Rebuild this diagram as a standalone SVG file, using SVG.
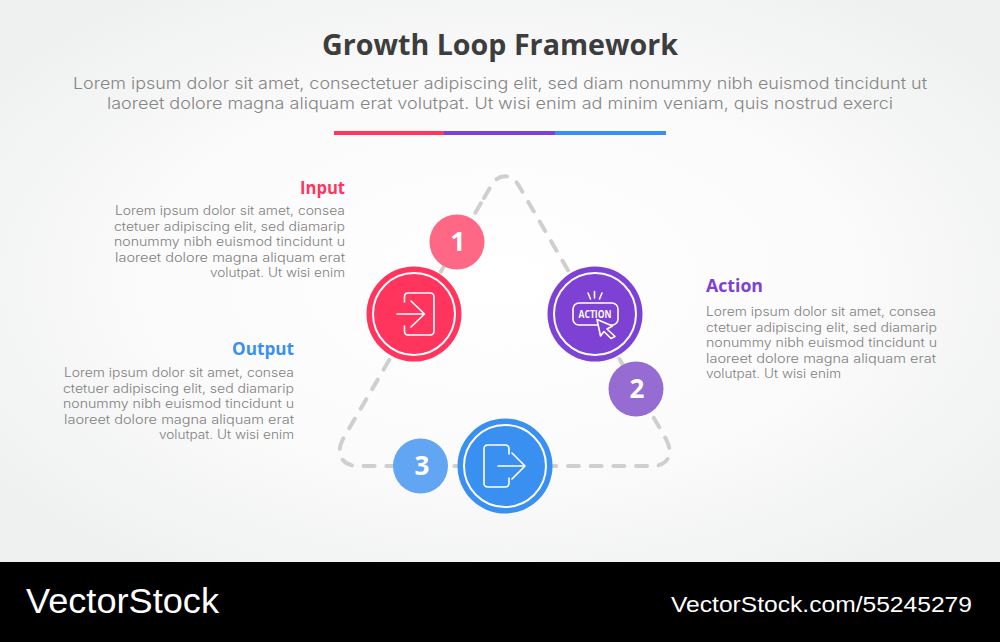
<svg xmlns="http://www.w3.org/2000/svg" width="1000" height="642" viewBox="0 0 1000 642">
<style>
.t{font-family:"Open Sans","Liberation Sans",sans-serif}
.l{font-family:Inter,"Open Sans",sans-serif}
.title{font-size:29px;font-weight:700;fill:#3d3d3d;text-anchor:middle}
.sub{font-size:16.5px;font-weight:300;fill:#858585;text-anchor:middle}
.h{font-size:18px;font-weight:700}
.b{font-size:12.500px;font-weight:300;fill:#808080}
.e{text-anchor:end}
.num{font-size:26px;font-weight:700;fill:#fff;text-anchor:middle}
.ic{fill:none;stroke:#fff;stroke-width:1.6;stroke-linejoin:round;stroke-linecap:round}
.ring{fill:none;stroke:#fff;stroke-width:2}
.wm{font-family:"Liberation Sans",Arial,sans-serif;fill:#fff}
</style>
<defs>
<radialGradient id="bg" cx="50%" cy="50%" r="62%">
<stop offset="0" stop-color="#ffffff"/><stop offset="0.55" stop-color="#fbfbfb"/><stop offset="1" stop-color="#eff0f0"/>
</radialGradient>
</defs>
<rect width="1000" height="562" fill="url(#bg)"/>
<rect y="562" width="1000" height="80" fill="#000"/>
<text class="t title" x="500" y="55" textLength="356" lengthAdjust="spacingAndGlyphs">Growth Loop Framework</text>
<text class="l sub" x="500" y="89" textLength="854" lengthAdjust="spacingAndGlyphs">Lorem ipsum dolor sit amet, consectetuer adipiscing elit, sed diam nonummy nibh euismod tincidunt ut</text>
<text class="l sub" x="500" y="109" textLength="786" lengthAdjust="spacingAndGlyphs">laoreet dolore magna aliquam erat volutpat. Ut wisi enim ad minim veniam, quis nostrud exerci</text>
<g id="title-rule">
<rect x="334" y="131" width="111" height="4" fill="#ff355e"/>
<rect x="444" y="131" width="111" height="4" fill="#7d41d3"/>
<rect x="555" y="131" width="111" height="4" fill="#3a90f0"/>
</g>
<g id="connectors">
<path d="M484 198L491 186C498 173 512 173 519 186L666 439C674 454 668 466 652 466H358C342 466 335 454 343 439Z" fill="none" stroke="#cfcfcf" stroke-width="4" stroke-dasharray="11 11.700" stroke-linecap="round"/>
</g>
<g id="node-input">
<circle cx="414" cy="314" r="47.500" fill="#ff355e"/>
<circle cx="414" cy="314" r="41" class="ring"/>
<path class="ic" d="M404.500 302V297Q404.500 293 408 293H430Q434 293 434 297V331Q434 335 430 335H408Q404.500 335 404.500 331V326"/>
<path class="ic" d="M397 314H424.500M411 301L424.500 314L411 327"/>
</g>
<g id="node-action">
<circle cx="595" cy="314" r="47.500" fill="#7d41d3"/>
<circle cx="595" cy="314" r="41" class="ring"/>
<rect class="ic" x="573" y="303" width="45" height="22" rx="6"/>
<text class="t" x="595" y="317.500" font-size="10" font-weight="700" fill="#fff" text-anchor="middle" textLength="33" lengthAdjust="spacingAndGlyphs">ACTION</text>
<path class="ic" d="M588 293L590.500 299M594.500 291.500V298M602 293L599.500 299"/>
<path d="M597 319.500L612.500 326L607 329L615 336.500L611 338.500L604 331.500L600.500 336Z" fill="#7d41d3" stroke="#fff" stroke-width="1.600" stroke-linejoin="round"/>
</g>
<g id="node-output">
<circle cx="505" cy="466" r="47.500" fill="#3a90f0"/>
<circle cx="505" cy="466" r="41" class="ring"/>
<path class="ic" d="M509 454V449Q509 445 505 445H488Q484 445 484 449V483Q484 487 488 487H505Q509 487 509 483V478"/>
<path class="ic" d="M498 466H525M512 453L525 466L512 479"/>
</g>
<g id="badge-1">
<circle cx="457" cy="242" r="27.500" fill="#ff6885"/>
<text class="t num" x="458" y="251">1</text>
</g>
<g id="badge-2">
<circle cx="636" cy="389" r="27.500" fill="#966bd2"/>
<text class="t num" x="637" y="398">2</text>
</g>
<g id="badge-3">
<circle cx="420.500" cy="466" r="27.500" fill="#62a6f3"/>
<text class="t num" x="422" y="475">3</text>
</g>
<g id="label-input">
<text class="t h e" x="345" y="194" fill="#ff355e" textLength="45" lengthAdjust="spacingAndGlyphs">Input</text>
<text class="l b e" x="345" y="215" textLength="230" lengthAdjust="spacingAndGlyphs">Lorem ipsum dolor sit amet, consea</text>
<text class="l b e" x="345" y="230.500" textLength="231" lengthAdjust="spacingAndGlyphs">ctetuer adipiscing elit, sed diamarip</text>
<text class="l b e" x="345" y="246" textLength="231" lengthAdjust="spacingAndGlyphs">nonummy nibh euismod tincidunt u</text>
<text class="l b e" x="345" y="261.500" textLength="230" lengthAdjust="spacingAndGlyphs">laoreet dolore magna aliquam erat</text>
<text class="l b e" x="345" y="277" textLength="135" lengthAdjust="spacingAndGlyphs">volutpat. Ut wisi enim</text>
</g>
<g id="label-output">
<text class="t h e" x="294" y="355" fill="#3a90f0" textLength="62" lengthAdjust="spacingAndGlyphs">Output</text>
<text class="l b e" x="294" y="377" textLength="230" lengthAdjust="spacingAndGlyphs">Lorem ipsum dolor sit amet, consea</text>
<text class="l b e" x="294" y="392.500" textLength="231" lengthAdjust="spacingAndGlyphs">ctetuer adipiscing elit, sed diamarip</text>
<text class="l b e" x="294" y="408" textLength="231" lengthAdjust="spacingAndGlyphs">nonummy nibh euismod tincidunt u</text>
<text class="l b e" x="294" y="423.500" textLength="230" lengthAdjust="spacingAndGlyphs">laoreet dolore magna aliquam erat</text>
<text class="l b e" x="294" y="439" textLength="135" lengthAdjust="spacingAndGlyphs">volutpat. Ut wisi enim</text>
</g>
<g id="label-action">
<text class="t h" x="706" y="292" fill="#7d41d3" textLength="57" lengthAdjust="spacingAndGlyphs">Action</text>
<text class="l b" x="706" y="316" textLength="230" lengthAdjust="spacingAndGlyphs">Lorem ipsum dolor sit amet, consea</text>
<text class="l b" x="706" y="331.500" textLength="231" lengthAdjust="spacingAndGlyphs">ctetuer adipiscing elit, sed diamarip</text>
<text class="l b" x="706" y="347" textLength="231" lengthAdjust="spacingAndGlyphs">nonummy nibh euismod tincidunt u</text>
<text class="l b" x="706" y="362.500" textLength="230" lengthAdjust="spacingAndGlyphs">laoreet dolore magna aliquam erat</text>
<text class="l b" x="706" y="378" textLength="135" lengthAdjust="spacingAndGlyphs">volutpat. Ut wisi enim</text>
</g>
<text class="wm" x="26" y="613" font-size="35" textLength="193" lengthAdjust="spacingAndGlyphs">VectorStock</text>
<text class="wm" x="671" y="612" font-size="22.500" textLength="301" lengthAdjust="spacingAndGlyphs">VectorStock.com/55245279</text>
</svg>
